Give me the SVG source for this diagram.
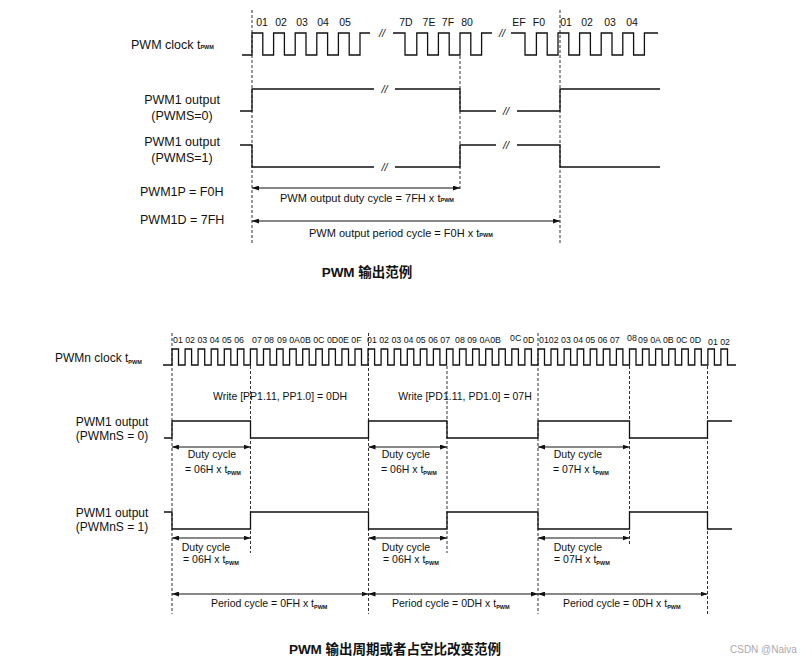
<svg xmlns="http://www.w3.org/2000/svg" width="812" height="664" viewBox="0 0 812 664">
<defs>
<marker id="ah" viewBox="0 0 7 5" refX="7" refY="2.5" markerWidth="7" markerHeight="5" markerUnits="userSpaceOnUse" orient="auto-start-reverse"><path d="M0,0L7,2.5L0,5z" fill="#111"/></marker>
<style>
.w{fill:none;stroke:#111;stroke-width:1.3}
.d{fill:none;stroke:#333;stroke-width:1;stroke-dasharray:3,2}
.a{fill:none;stroke:#111;stroke-width:1;marker-start:url(#ah);marker-end:url(#ah)}
text{font-family:"Liberation Sans",Arial,sans-serif;fill:#111}
.lt{font-size:12.5px}
.lb{font-size:12px}
.ck{font-size:10.5px}
.cb{font-size:8.8px}
.sm{font-size:10.5px}
.st{font-size:11px}
.sub{font-size:5.5px;font-weight:bold}
.br{font-size:11px;font-style:italic}
.ti{font-family:"Liberation Sans","Noto Sans CJK SC",sans-serif;font-weight:bold;font-size:13.5px}
</style>
</defs>
<rect width="812" height="664" fill="#fff"/>

<g id="connectors">
<line class="d" x1="252" y1="10" x2="252" y2="243"/>
<line class="d" x1="460" y1="56" x2="460" y2="191"/>
<line class="d" x1="560" y1="10" x2="560" y2="243"/>
<line class="a" x1="252" y1="188" x2="460" y2="188"/>
<line class="a" x1="252" y1="221" x2="560" y2="221"/>

<line class="d" x1="172" y1="333" x2="172" y2="614"/>
<line class="d" x1="250.5" y1="366" x2="250.5" y2="553"/>
<line class="d" x1="368.5" y1="333" x2="368.5" y2="614"/>
<line class="d" x1="447" y1="366" x2="447" y2="553"/>
<line class="d" x1="538" y1="333" x2="538" y2="614"/>
<line class="d" x1="629.5" y1="366" x2="629.5" y2="545"/>
<line class="d" x1="707.5" y1="366" x2="707.5" y2="614"/>
<line class="a" x1="172" y1="447" x2="250.5" y2="447"/>
<line class="a" x1="368.5" y1="447" x2="447" y2="447"/>
<line class="a" x1="538" y1="447" x2="629.5" y2="447"/>
<line class="a" x1="172" y1="538" x2="250.5" y2="538"/>
<line class="a" x1="368.5" y1="538" x2="447" y2="538"/>
<line class="a" x1="538" y1="538" x2="629.5" y2="538"/>
<line class="a" x1="172" y1="594" x2="368.5" y2="594"/>
<line class="a" x1="368.5" y1="594" x2="538" y2="594"/>
<line class="a" x1="538" y1="594" x2="707.5" y2="594"/>
</g>

<g id="top-clock">
<text class="lt" x="131" y="49">PWM clock t<tspan class="sub" font-weight="normal" font-size="6.5px">PWM</tspan></text>
<path class="w" d="M242,55H252V33H262.8V55H273.6V33H284.4V55H295.2V33H306V55H316.8V33H327.6V55H338.4V33H349.2V55H360V33H370"/>
<path class="w" d="M393,33H405V55H416.8V33H427.6V55H438.4V33H449.2V55H460V33H470.8V55H481.6V33H492"/>
<path class="w" d="M511,33H525V55H536.4V33H547.2V55H558V33H568.8V55H579.6V33H590.4V55H601.2V33H612V55H622.8V33H633.6V55H644.4V33H658"/>
<text class="br" x="382" y="37" text-anchor="middle">//</text>
<text class="br" x="502" y="37" text-anchor="middle">//</text>
<g class="ck" text-anchor="middle">
<text x="262" y="26">01</text><text x="281" y="26">02</text><text x="302" y="26">03</text><text x="323" y="26">04</text><text x="345" y="26">05</text>
<text x="406" y="26">7D</text><text x="429" y="26">7E</text><text x="448" y="26">7F</text><text x="467" y="26">80</text>
<text x="519" y="26">EF</text><text x="539" y="26">F0</text><text x="566" y="26">01</text><text x="587" y="26">02</text><text x="610" y="26">03</text><text x="632" y="26">04</text>
</g>
</g>

<g id="top-pwm-s0">
<text class="lt" x="182" y="103.5" text-anchor="middle">PWM1 output</text>
<text class="lt" x="182" y="119.5" text-anchor="middle">(PWMS=0)</text>
<path class="w" d="M240,111H252V89H374"/>
<path class="w" d="M395,89H460V111H496"/>
<path class="w" d="M517,111H560V89H660"/>
<text class="br" x="384.5" y="93" text-anchor="middle">//</text>
<text class="br" x="506" y="115" text-anchor="middle">//</text>
</g>

<g id="top-pwm-s1">
<text class="lt" x="182" y="145.5" text-anchor="middle">PWM1 output</text>
<text class="lt" x="182" y="161.5" text-anchor="middle">(PWMS=1)</text>
<path class="w" d="M240,145H252V167H374"/>
<path class="w" d="M395,167H460V145H496"/>
<path class="w" d="M517,145H560V167H660"/>
<text class="br" x="384.5" y="171" text-anchor="middle">//</text>
<text class="br" x="506" y="149" text-anchor="middle">//</text>
</g>

<g id="top-params">
<text class="lt" x="140" y="196">PWM1P = F0H</text>
<text class="lt" x="140" y="224">PWM1D = 7FH</text>
<text class="st" x="280" y="202">PWM output duty cycle = 7FH x  t<tspan class="sub" font-weight="normal" font-size="6.5px">PWM</tspan></text>
<text class="st" x="309" y="237">PWM output period cycle = F0H x  t<tspan class="sub" font-weight="normal" font-size="6.5px">PWM</tspan></text>
</g>

<text id="title-top" class="ti" x="367" y="277" text-anchor="middle">PWM 输出范例</text>

<g id="bottom-clock">
<text class="lb" x="55" y="362">PWMn clock  t<tspan class="sub" dy="2">PWM</tspan></text>
<path class="w" d="M163,365H172V349H178.5V365H185.1V349H191.6V365H198.1V349H204.7V365H211.2V349H217.8V365H224.3V349H230.8V365H237.4V349H243.9V365H250.4V349H257V365H263.5V349H270V365H276.6V349H283.1V365H289.6V349H296.2V365H302.7V349H309.2V365H315.8V349H322.3V365H328.8V349H335.4V365H341.9V349H348.5V365H355V349H361.5V365H368V349H374.6V365H381.1V349H387.7V365H394.2V349H400.7V365H407.3V349H413.8V365H420.3V349H426.9V365H433.4V349H439.9V365H446.5V349H453V365H459.5V349H466.1V365H472.6V349H479.2V365H485.7V349H492.2V365H498.8V349H505.3V365H511.8V349H518.4V365H524.9V349H531.4V365H538V349H544.5V365H551V349H557.6V365H564.1V349H570.6V365H577.2V349H583.7V365H590.2V349H596.8V365H603.3V349H609.9V365H616.4V349H622.9V365H629.5V349H636V365H642.5V349H649.1V365H655.6V349H662.1V365H668.7V349H675.2V365H681.7V349H688.3V365H694.8V349H701.3V365H707.9V349H714.4V365H720.9V349H727.5V365H736"/>
<g class="cb">
<text x="173" y="343">01 02 03 04 05 06</text>
<text x="252" y="343">07 08</text>
<text x="277" y="343">09 0A0B 0C 0D0E 0F</text>
<text x="367" y="343">01 02 03 04 05 06 07</text>
<text x="455" y="343">08 09 0A0B</text>
<text x="510" y="341">0C</text>
<text x="523" y="343">0D</text>
<text x="539" y="343">0102 03 04 05 06 07</text>
<text x="627" y="341">08</text>
<text x="638" y="343">09 0A 0B 0C 0D</text>
<text x="708" y="345">01 02</text>
</g>
</g>

<g id="write-labels">
<text class="sm" x="280" y="400" text-anchor="middle">Write [PP1.11, PP1.0] = 0DH</text>
<text class="sm" x="465" y="400" text-anchor="middle">Write [PD1.11, PD1.0] = 07H</text>
</g>

<g id="bottom-pwm-s0">
<text class="lb" x="112" y="426" text-anchor="middle">PWM1 output</text>
<text class="lb" x="112" y="440" text-anchor="middle">(PWMnS = 0)</text>
<path class="w" d="M164,438H172V421H250.5V438H368.5V421H447V438H538V421H629.5V438H707.5V421H732"/>
<text class="sm" x="212" y="458" text-anchor="middle">Duty cycle</text>
<text class="sm" x="185" y="473">= 06H x t<tspan class="sub" dy="2">PWM</tspan></text>
<text class="sm" x="406" y="458" text-anchor="middle">Duty cycle</text>
<text class="sm" x="381" y="473">= 06H x t<tspan class="sub" dy="2">PWM</tspan></text>
<text class="sm" x="578" y="458" text-anchor="middle">Duty cycle</text>
<text class="sm" x="553" y="473">= 07H x t<tspan class="sub" dy="2">PWM</tspan></text>
</g>

<g id="bottom-pwm-s1">
<text class="lb" x="112" y="517" text-anchor="middle">PWM1 output</text>
<text class="lb" x="112" y="531" text-anchor="middle">(PWMnS = 1)</text>
<path class="w" d="M164,512H172V529H250.5V512H368.5V529H447V512H538V529H629.5V512H707.5V529H732"/>
<text class="sm" x="206" y="551" text-anchor="middle">Duty cycle</text>
<text class="sm" x="183" y="563">= 06H x t<tspan class="sub" dy="2">PWM</tspan></text>
<text class="sm" x="406" y="551" text-anchor="middle">Duty cycle</text>
<text class="sm" x="383" y="563">= 06H x t<tspan class="sub" dy="2">PWM</tspan></text>
<text class="sm" x="578" y="551" text-anchor="middle">Duty cycle</text>
<text class="sm" x="554" y="563">= 07H x t<tspan class="sub" dy="2">PWM</tspan></text>
</g>

<g id="period-labels">
<text class="sm" x="211" y="607">Period cycle = 0FH x t<tspan class="sub" dy="2">PWM</tspan></text>
<text class="sm" x="392" y="607">Period cycle = 0DH x t<tspan class="sub" dy="2">PWM</tspan></text>
<text class="sm" x="563" y="607">Period cycle = 0DH x t<tspan class="sub" dy="2">PWM</tspan></text>
</g>

<text id="title-bottom" class="ti" x="395" y="654" text-anchor="middle">PWM 输出周期或者占空比改变范例</text>
<text id="watermark" x="730" y="653" font-size="10px" style="fill:#aaa">CSDN @Naiva</text>
</svg>
